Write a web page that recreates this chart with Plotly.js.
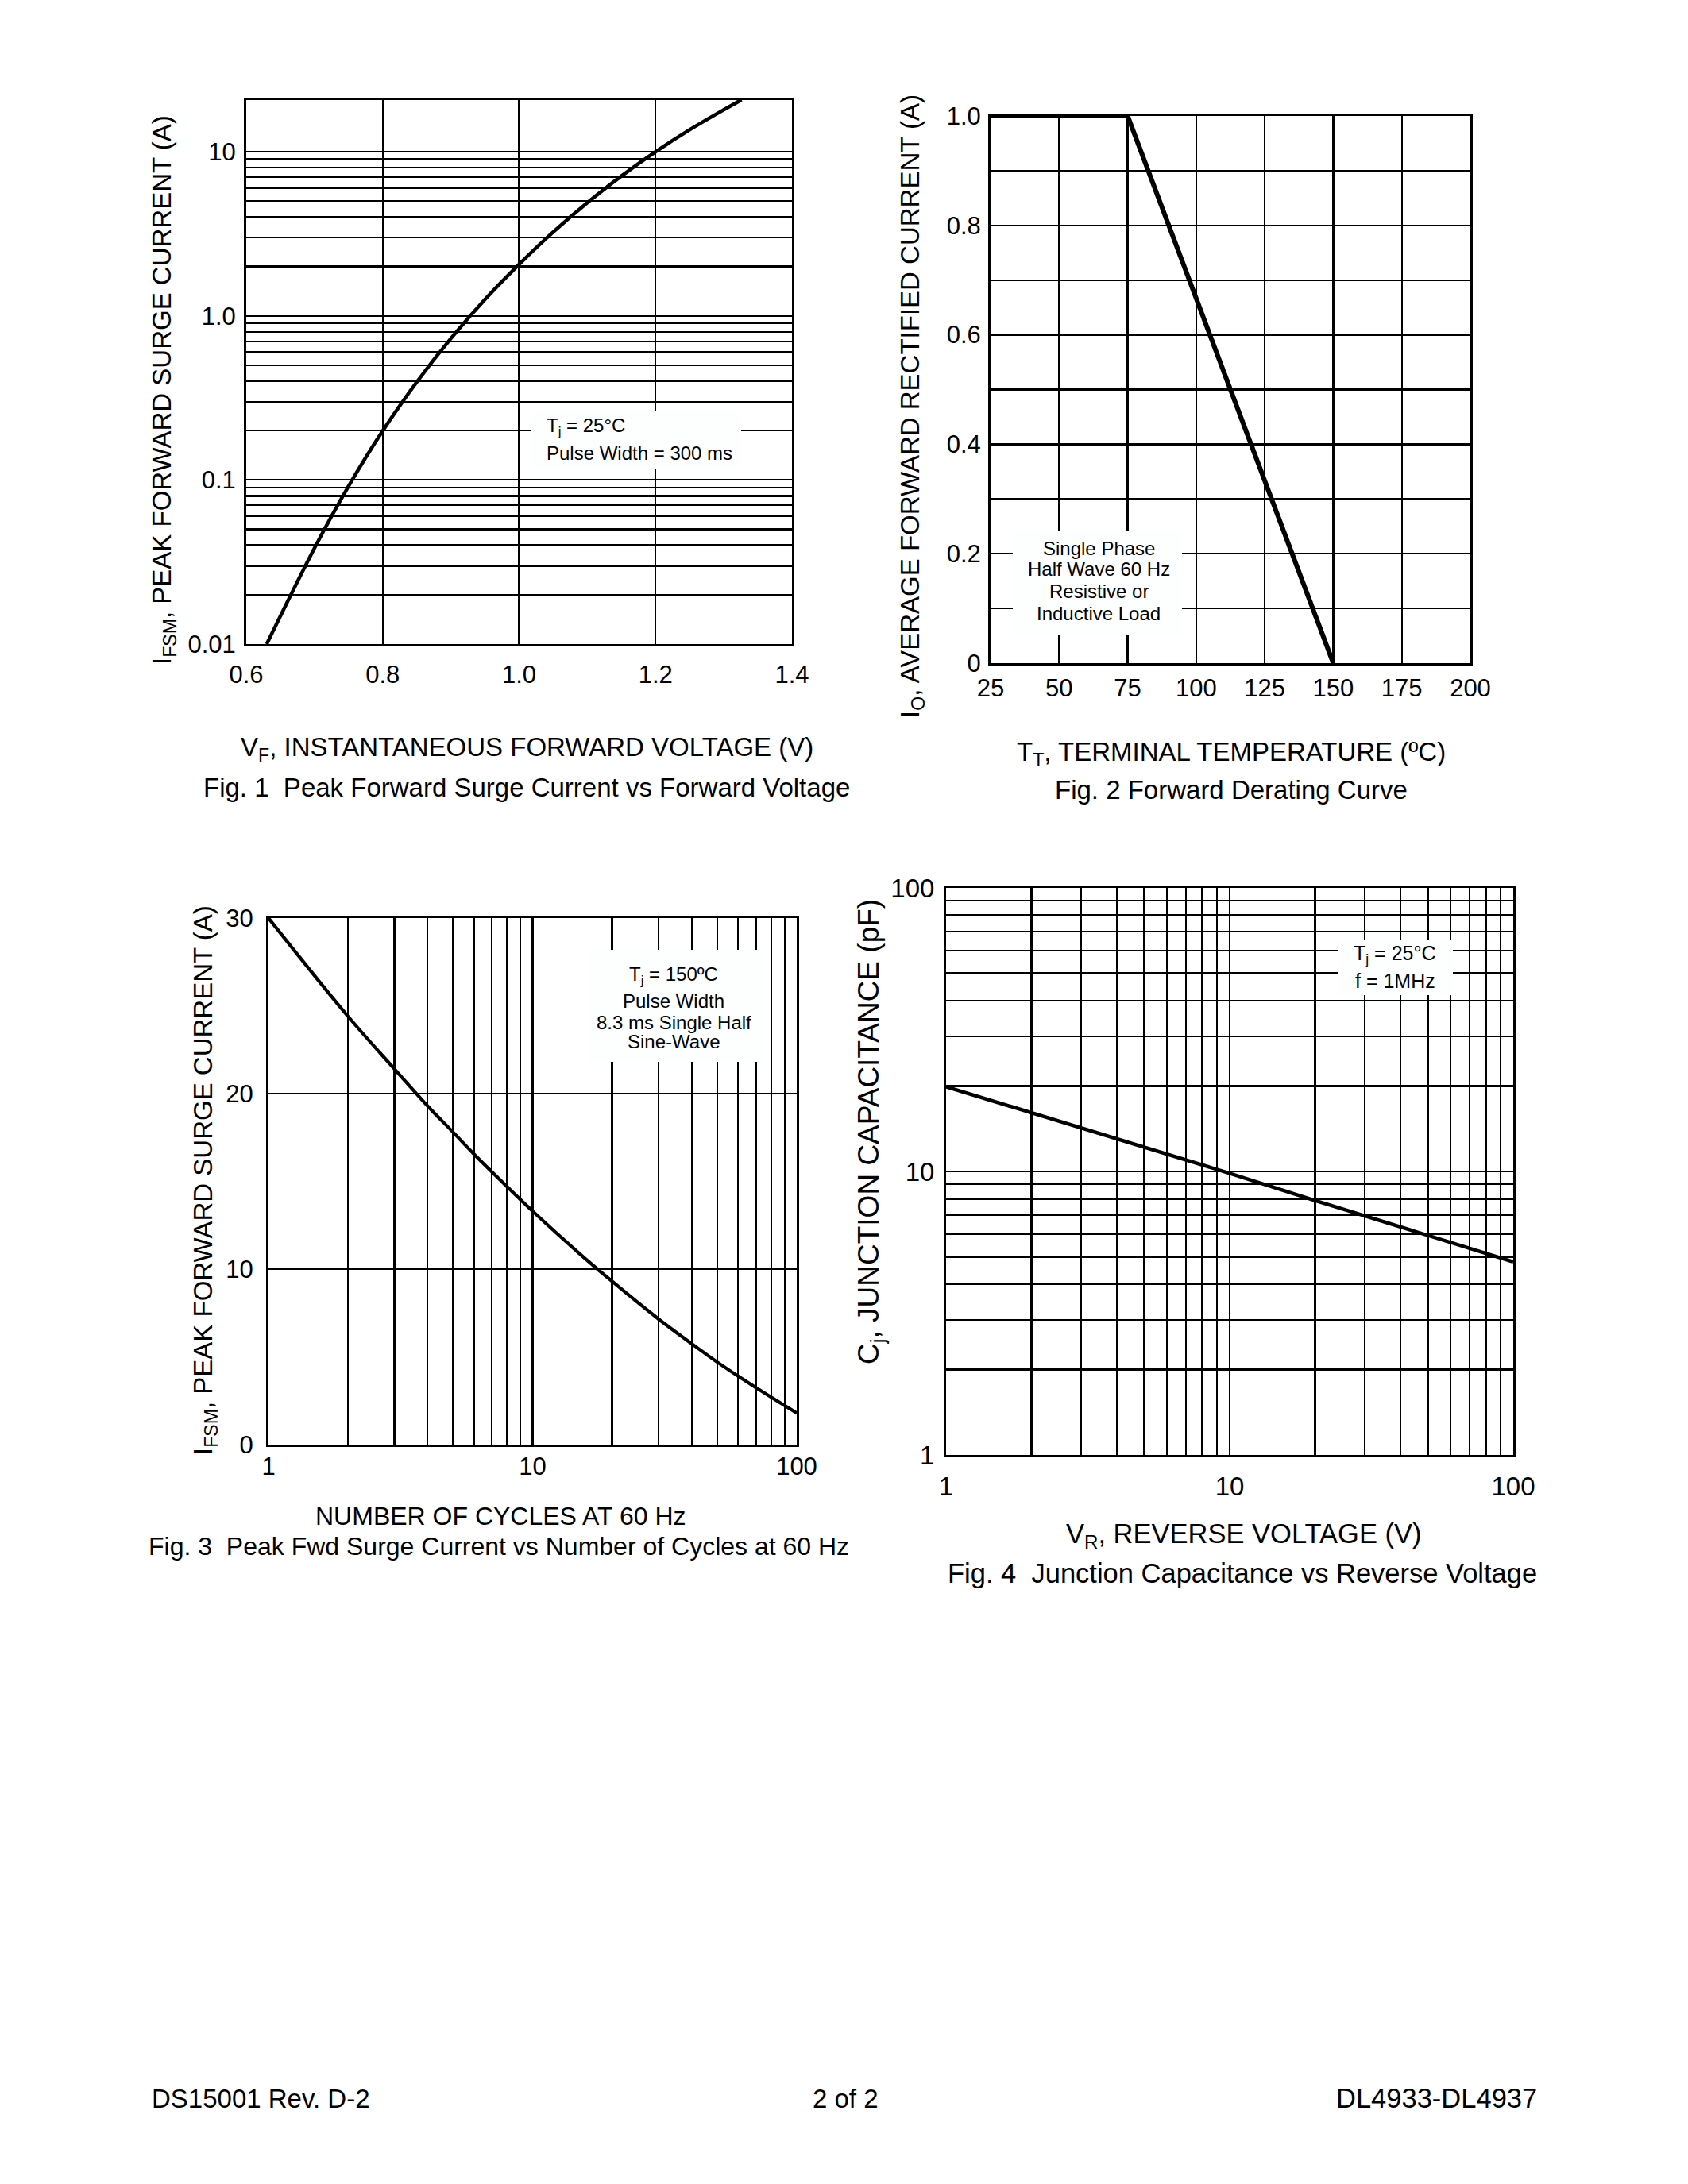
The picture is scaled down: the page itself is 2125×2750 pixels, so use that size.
<!DOCTYPE html>
<html>
<head>
<meta charset="utf-8">
<script src="https://cdn.plot.ly/plotly-3.0.1.min.js"></script>
<style>
html, body { margin: 0; padding: 0; background: #ffffff; }
#chart { width: 2125px; height: 2750px; }
</style>
</head>
<body>
<div id="chart"></div>
<script>
// ---------- Fig. 1  Peak Forward Surge Current vs Forward Voltage ----------
const fig1Voltage = [0.630, 0.700, 0.750, 0.800, 0.850, 0.900, 0.950, 1.000, 1.050, 1.100, 1.150, 1.200, 1.250, 1.300, 1.326];
const fig1Current = [0.010, 0.0384, 0.0916, 0.199, 0.395, 0.728, 1.26, 2.06, 3.24, 4.89, 7.11, 9.99, 13.6, 18.0, 20.7];
const fig1XTicks = [0.6, 0.8, 1.0, 1.2, 1.4];
const fig1XTickText = ['0.6', '0.8', '1.0', '1.2', '1.4'];
const fig1YTicks = [0.01, 0.1, 1, 10];
const fig1YTickText = ['0.01', '0.1', '1.0', '10'];

// ---------- Fig. 2  Forward Derating Curve ----------
const fig2Temp = [25, 75, 150];
const fig2Current = [1.0, 1.0, 0.0];
const fig2XTicks = [25, 50, 75, 100, 125, 150, 175, 200];
const fig2YTicks = [0, 0.2, 0.4, 0.6, 0.8, 1.0];
const fig2YTickText = ['0', '0.2', '0.4', '0.6', '0.8', '1.0'];

// ---------- Fig. 3  Peak Fwd Surge Current vs Number of Cycles ----------
const fig3Cycles = [1, 2, 3, 4, 5, 6, 8, 10, 15, 20, 30, 40, 50, 60, 70, 80, 100];
const fig3Current = [30, 24.4, 21.4, 19.3, 17.8, 16.55, 14.7, 13.3, 10.9, 9.3, 7.15, 5.75, 4.7, 3.9, 3.25, 2.7, 1.8];
const fig3XTicks = [1, 10, 100];
const fig3XTickText = ['1', '10', '100'];
const fig3YTicks = [0, 10, 20, 30];

// ---------- Fig. 4  Junction Capacitance vs Reverse Voltage ----------
const fig4Voltage = [1, 2, 5, 10, 20, 50, 100];
const fig4Capacitance = [19.9, 16.1, 12.1, 9.85, 7.9, 5.97, 4.8];
const fig4XTicks = [1, 10, 100];
const fig4YTicks = [1, 10, 100];
const fig4TickText = ['1', '10', '100'];

// ---------- helpers ----------
const W = 2125, H = 2750;
const FONT = '"Liberation Sans", Arial, Helvetica, sans-serif';
const px = v => v / W;
const py = v => 1 - v / H;

function logMinor(fromDecade, toDecade, maxVal) {
  const out = [];
  for (let d = fromDecade; d < toDecade; d++) {
    for (let k = 2; k <= 9; k++) {
      const v = k * Math.pow(10, d);
      if (v <= maxVal) out.push(v);
    }
  }
  return out;
}

const GRID = { showgrid: true, gridcolor: '#000', gridwidth: 2.3, ticks: '' };

function axis(extra, fontSize, standoff) {
  return Object.assign({
    showline: true, mirror: true, linecolor: '#000', linewidth: 3,
    showgrid: true, gridcolor: '#000', gridwidth: 2.3,
    zeroline: false, ticks: '', fixedrange: true,
    ticklabelstandoff: standoff,
    tickfont: { family: FONT, size: fontSize, color: '#000' }
  }, extra);
}

const lineStyle = w => ({ color: '#000', width: w });

const traces = [
  { x: fig1Voltage, y: fig1Current, xaxis: 'x', yaxis: 'y', mode: 'lines',
    line: Object.assign(lineStyle(4.5), { shape: 'spline', smoothing: 1 }), hoverinfo: 'skip' },
  { x: fig2Temp, y: fig2Current, xaxis: 'x2', yaxis: 'y2', mode: 'lines',
    line: lineStyle(6), hoverinfo: 'skip' },
  { x: fig3Cycles, y: fig3Current, xaxis: 'x3', yaxis: 'y3', mode: 'lines',
    line: Object.assign(lineStyle(4.2), { shape: 'spline', smoothing: 1 }), hoverinfo: 'skip' },
  { x: fig4Voltage, y: fig4Capacitance, xaxis: 'x4', yaxis: 'y4', mode: 'lines',
    line: lineStyle(4.5), hoverinfo: 'skip' }
];

const layout = {
  width: W, height: H,
  margin: { l: 0, r: 0, t: 0, b: 0, pad: 0 },
  paper_bgcolor: '#fff', plot_bgcolor: '#fff',
  showlegend: false,
  font: { family: FONT, size: 31, color: '#000' },

  // Fig 1
  xaxis: axis({
    domain: [px(310), px(997)], anchor: 'y', range: [0.6, 1.4],
    tickmode: 'array', tickvals: fig1XTicks, ticktext: fig1XTickText
  }, 31, 9),
  yaxis: axis({
    domain: [py(811), py(126)], anchor: 'x', type: 'log', range: [-2, 1.3145],
    tickmode: 'array', tickvals: fig1YTicks, ticktext: fig1YTickText,
    minor: Object.assign({ tickmode: 'array', tickvals: logMinor(-2, 1, 20) }, GRID)
  }, 31, 4),

  // Fig 2
  xaxis2: axis({
    domain: [px(1247), px(1851)], anchor: 'y2', range: [25, 200],
    tickmode: 'array', tickvals: fig2XTicks, ticktext: fig2XTicks.map(String)
  }, 31, 2),
  yaxis2: axis({
    domain: [py(835), py(146)], anchor: 'x2', range: [0, 1.0],
    tickmode: 'array', tickvals: fig2YTicks, ticktext: fig2YTickText,
    minor: Object.assign({ dtick: 0.1, tick0: 0 }, GRID)
  }, 31, 3),

  // Fig 3
  xaxis3: axis({
    domain: [px(338), px(1003)], anchor: 'y3', type: 'log', range: [0, 2],
    tickmode: 'array', tickvals: fig3XTicks, ticktext: fig3XTickText,
    minor: Object.assign({ tickmode: 'array', tickvals: logMinor(0, 2, 100) }, GRID)
  }, 31, -2),
  yaxis3: axis({
    domain: [py(1819), py(1156)], anchor: 'x3', range: [0, 30],
    tickmode: 'array', tickvals: fig3YTicks, ticktext: fig3YTicks.map(String)
  }, 31, 10),

  // Fig 4
  xaxis4: axis({
    domain: [px(1191), px(1905)], anchor: 'y4', type: 'log', range: [0, 2],
    tickmode: 'array', tickvals: fig4XTicks, ticktext: fig4TickText,
    minor: Object.assign({ tickmode: 'array', tickvals: logMinor(0, 2, 100) }, GRID)
  }, 33, 8),
  yaxis4: axis({
    domain: [py(1832), py(1118)], anchor: 'x4', type: 'log', range: [0, 2],
    tickmode: 'array', tickvals: fig4YTicks, ticktext: fig4TickText,
    minor: Object.assign({ tickmode: 'array', tickvals: logMinor(0, 2, 100) }, GRID)
  }, 33, 5),

  // white boxes behind the condition notes (they hide the grid there)
  shapes: [
    [668, 518, 933, 590],
    [1275, 668, 1488, 800],
    [740, 1196, 962, 1337],
    [1684, 1184, 1829, 1253]
  ].map(b => ({
    type: 'rect', xref: 'paper', yref: 'paper', layer: 'above',
    x0: px(b[0]), x1: px(b[2]), y0: py(b[3]), y1: py(b[1]),
    fillcolor: '#fdfefe', line: { width: 0 }
  })),

  annotations: []
};

function note(text, x, y, size, opts) {
  layout.annotations.push(Object.assign({
    text: text, xref: 'paper', yref: 'paper', x: px(x), y: py(y),
    xanchor: 'center', yanchor: 'middle', showarrow: false,
    font: { family: FONT, size: size, color: '#000' }
  }, opts || {}));
}

// condition notes
note('T<sub>j</sub> = 25°C', 686, 537, 24, { xanchor: 'left' });
note('Pulse Width = 300 ms', 686, 570, 24, { xanchor: 'left' });

note('Single Phase', 1383, 690, 24);
note('Half Wave 60 Hz', 1383, 717, 24);
note('Resistive or', 1383, 744, 24);
note('Inductive Load', 1383, 772, 24);

note('T<sub>j</sub> = 150ºC', 848, 1228, 24);
note('Pulse Width', 848, 1260, 24);
note('8.3 ms Single Half', 848, 1287, 24);
note('Sine-Wave', 848, 1312, 24);

note('T<sub>j</sub> = 25°C', 1756, 1202, 25);
note('f = 1MHz', 1756, 1235, 25);

// axis titles
note('I<sub>FSM</sub>, PEAK FORWARD SURGE CURRENT (A)', 206, 491, 33, { textangle: -90 });
note('V<sub>F</sub>, INSTANTANEOUS FORWARD VOLTAGE (V)', 663, 943, 33);
note('I<sub>O</sub>, AVERAGE FORWARD RECTIFIED CURRENT (A)', 1148, 512, 33, { textangle: -90 });
note('T<sub>T</sub>, TERMINAL TEMPERATURE (ºC)', 1550, 949, 33);
note('I<sub>FSM</sub>, PEAK FORWARD SURGE CURRENT (A)', 258, 1486, 33, { textangle: -90 });
note('NUMBER OF CYCLES AT 60 Hz', 630, 1909, 32);
note('C<sub>j</sub>, JUNCTION CAPACITANCE (pF)', 1096, 1425, 37, { textangle: -90 });
note('V<sub>R</sub>, REVERSE VOLTAGE (V)', 1566, 1933, 34.5);

// captions
note('Fig. 1\u00a0 Peak Forward Surge Current vs Forward Voltage', 663, 991, 33);
note('Fig. 2 Forward Derating Curve', 1550, 994, 33);
note('Fig. 3\u00a0 Peak Fwd Surge Current vs Number of Cycles at 60 Hz', 628, 1947, 32);
note('Fig. 4\u00a0 Junction Capacitance vs Reverse Voltage', 1564, 1981, 34.5);

// footer
note('DS15001 Rev. D-2', 189, 2642, 33, { xanchor: 'left' });
note('2 of 2', 1064, 2642, 33);
note('DL4933-DL4937', 1937, 2642, 34.5, { xanchor: 'right' });

Plotly.newPlot('chart', traces, layout, { displayModeBar: false, staticPlot: true, responsive: false });
</script>
</body>
</html>
